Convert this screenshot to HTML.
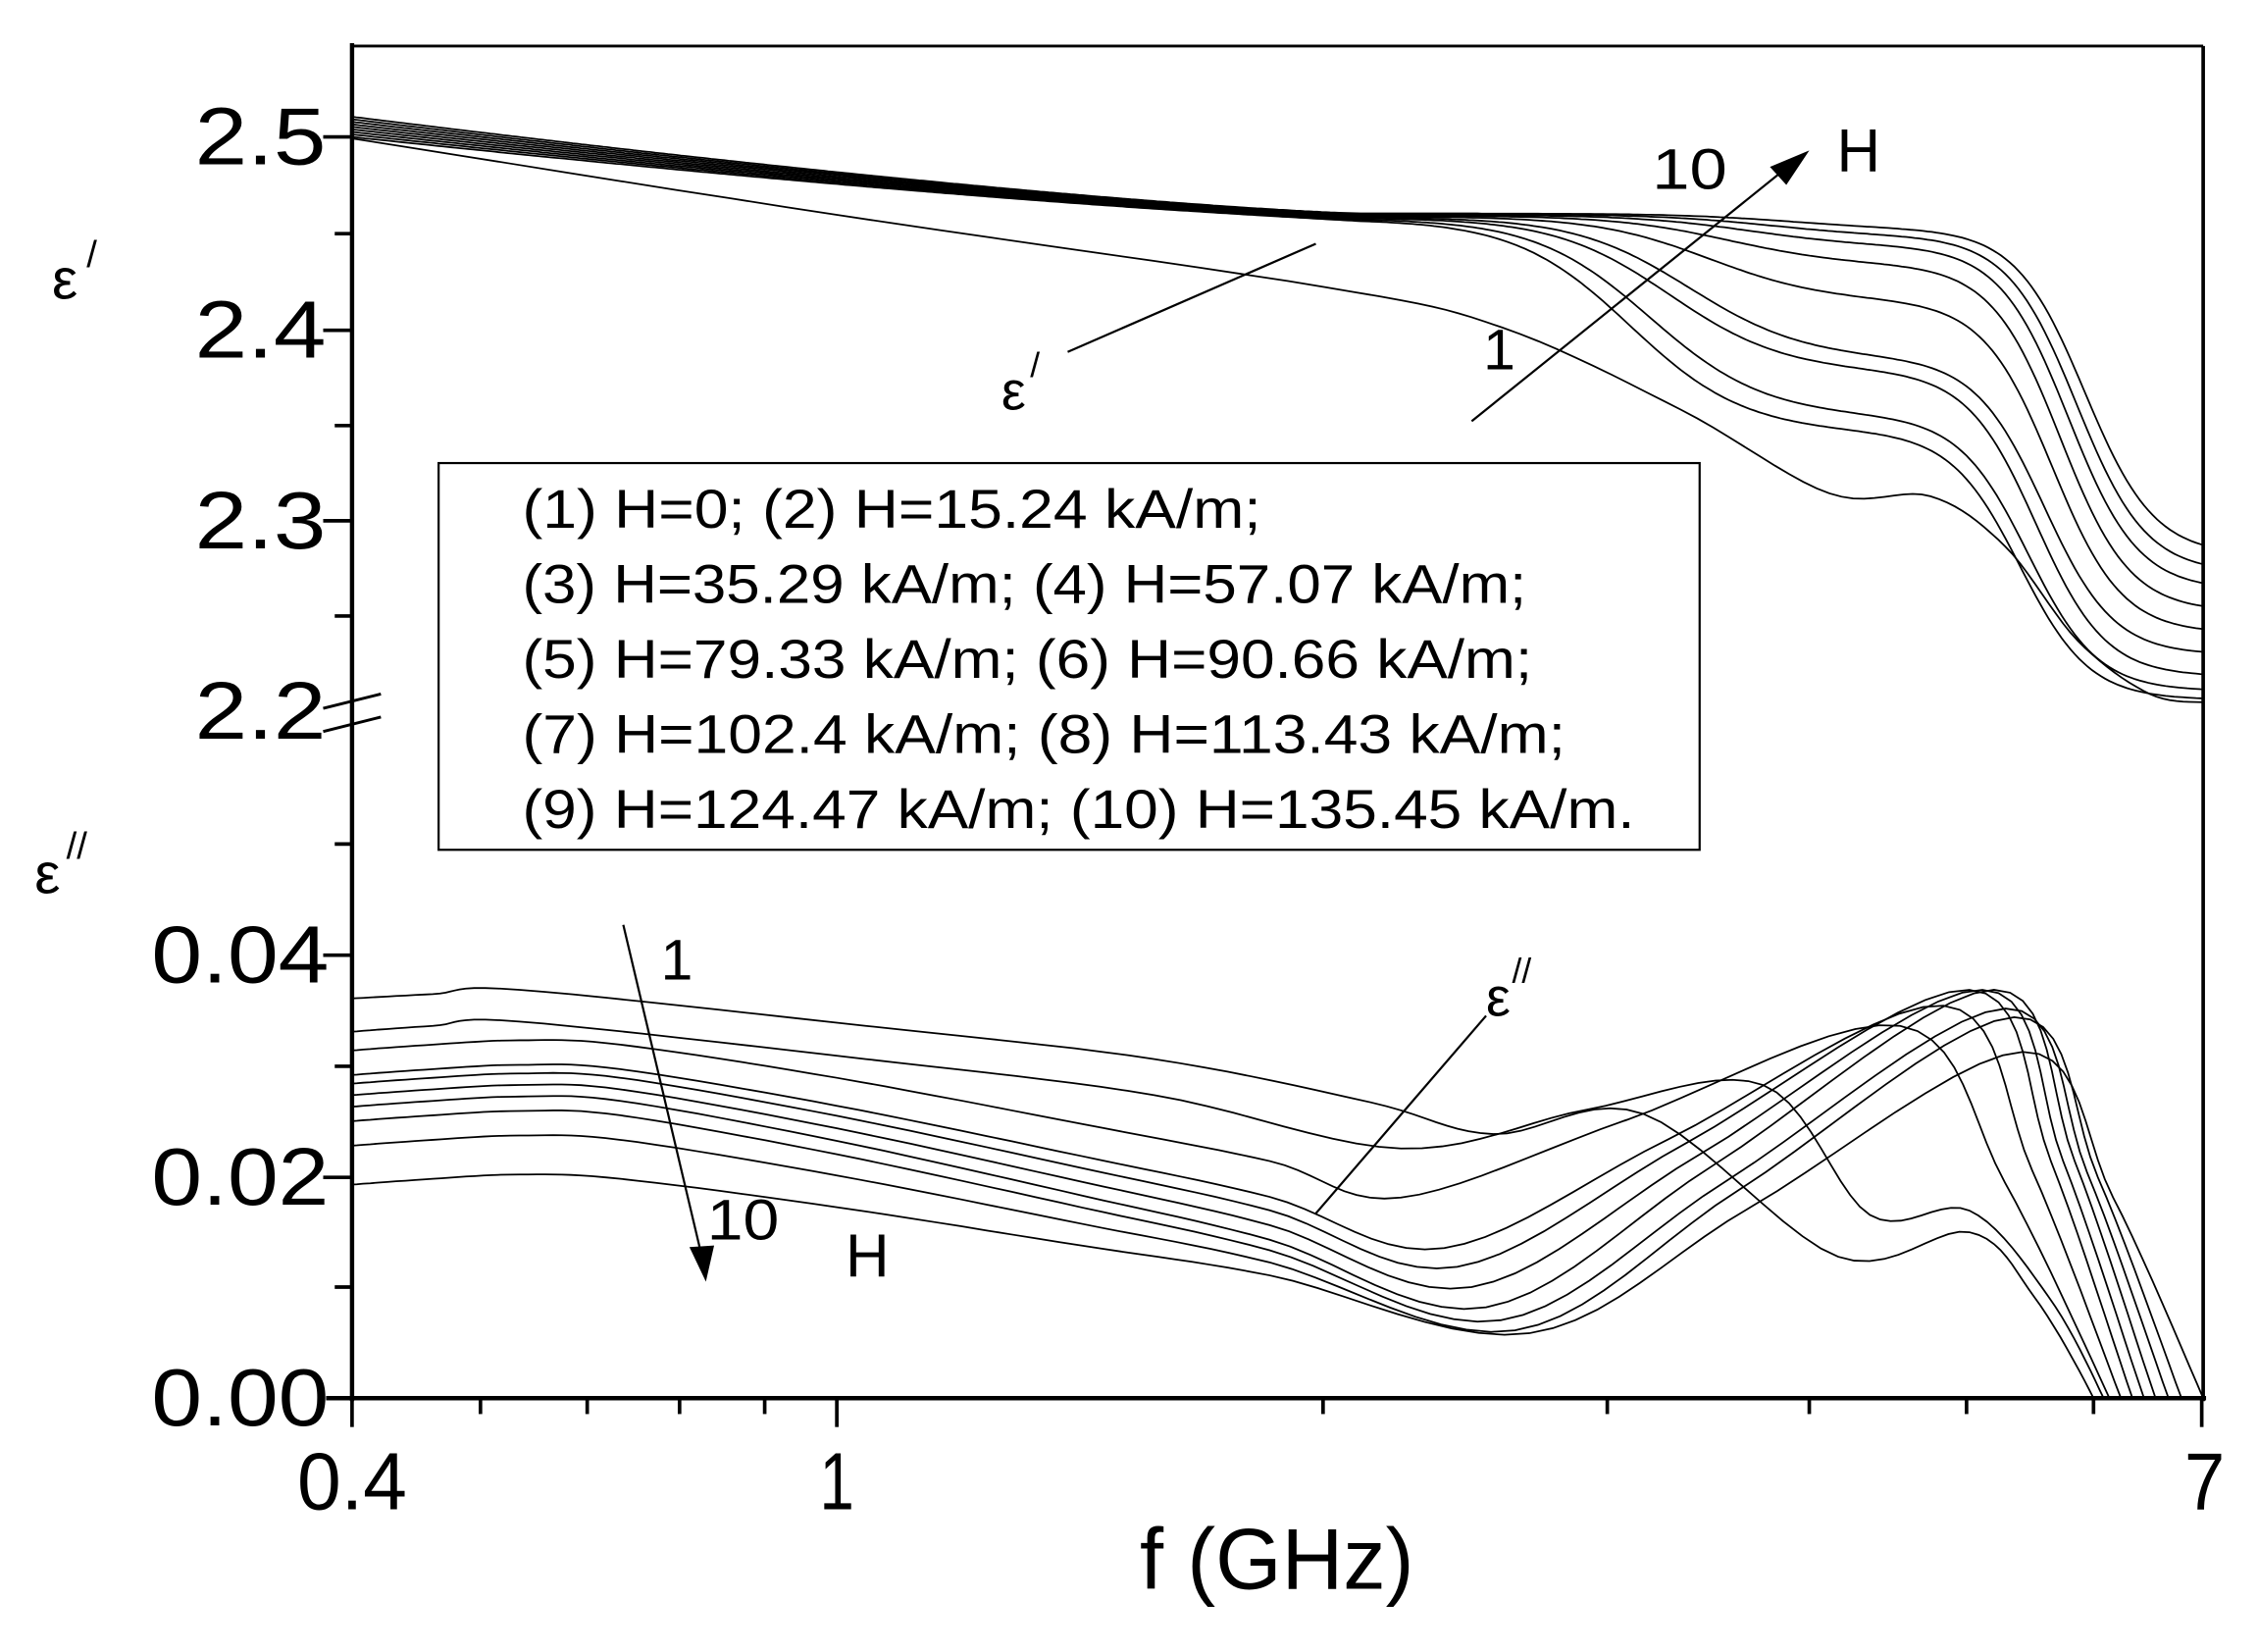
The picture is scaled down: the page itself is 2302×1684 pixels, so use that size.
<!DOCTYPE html>
<html><head><meta charset="utf-8"><style>html,body{margin:0;padding:0;background:#fff}svg{display:block}</style></head>
<body>
<svg id="s" xmlns="http://www.w3.org/2000/svg" width="2302" height="1684" viewBox="0 1.1 1565 1144.8" preserveAspectRatio="none" font-family="Liberation Sans, Arial, sans-serif">
<rect x="0" y="0" width="1565" height="1150" fill="#fff"/>
<defs><clipPath id="cp"><rect x="244" y="33" width="1283" height="937"/></clipPath></defs>
<g id="curves" clip-path="url(#cp)" fill="none" stroke="#000" stroke-width="1.2"></g>
<g stroke="#000" fill="none">
<line x1="244" y1="33" x2="1527" y2="33" stroke-width="2"/>
<line x1="1527" y1="33" x2="1527" y2="972" stroke-width="2.5"/>
<line x1="244" y1="31" x2="244" y2="972" stroke-width="3"/>
<line x1="226" y1="970" x2="1529" y2="970" stroke-width="3"/>
<line x1="224" y1="96" x2="244" y2="96" stroke-width="2.5"/>
<line x1="224" y1="230" x2="244" y2="230" stroke-width="2.5"/>
<line x1="224" y1="362" x2="244" y2="362" stroke-width="2.5"/>
<line x1="232" y1="163" x2="244" y2="163" stroke-width="2.5"/>
<line x1="232" y1="296" x2="244" y2="296" stroke-width="2.5"/>
<line x1="232" y1="428" x2="244" y2="428" stroke-width="2.5"/>
<line x1="224" y1="492" x2="264" y2="482" stroke-width="2"/>
<line x1="224" y1="508" x2="264" y2="498" stroke-width="2"/>
<line x1="224" y1="663" x2="244" y2="663" stroke-width="2.5"/>
<line x1="224" y1="817" x2="244" y2="817" stroke-width="2.5"/>
<line x1="232" y1="586" x2="244" y2="586" stroke-width="2.5"/>
<line x1="232" y1="740" x2="244" y2="740" stroke-width="2.5"/>
<line x1="232" y1="893" x2="244" y2="893" stroke-width="2.5"/>
<line x1="244" y1="970" x2="244" y2="990" stroke-width="2.5"/>
<line x1="580" y1="970" x2="580" y2="990" stroke-width="2.5"/>
<line x1="1526" y1="970" x2="1526" y2="990" stroke-width="2.5"/>
<g stroke-width="2.5">
<line x1="333" y1="970" x2="333" y2="981"/><line x1="407" y1="970" x2="407" y2="981"/>
<line x1="471" y1="970" x2="471" y2="981"/><line x1="530" y1="970" x2="530" y2="981"/>
<line x1="917" y1="970" x2="917" y2="981"/><line x1="1114" y1="970" x2="1114" y2="981"/>
<line x1="1254" y1="970" x2="1254" y2="981"/><line x1="1363" y1="970" x2="1363" y2="981"/>
<line x1="1451" y1="970" x2="1451" y2="981"/>
</g>
</g>
<g font-size="56" fill="#000">
<text x="135" y="115" textLength="91" lengthAdjust="spacingAndGlyphs">2.5</text>
<text x="135" y="249" textLength="91" lengthAdjust="spacingAndGlyphs">2.4</text>
<text x="135" y="381" textLength="91" lengthAdjust="spacingAndGlyphs">2.3</text>
<text x="135" y="513" textLength="91" lengthAdjust="spacingAndGlyphs">2.2</text>
<text x="105" y="682" textLength="123" lengthAdjust="spacingAndGlyphs">0.04</text>
<text x="105" y="836" textLength="123" lengthAdjust="spacingAndGlyphs">0.02</text>
<text x="105" y="989" textLength="123" lengthAdjust="spacingAndGlyphs">0.00</text>
<text x="206" y="1047" textLength="76" lengthAdjust="spacingAndGlyphs">0.4</text>
<text x="568" y="1047" textLength="24" lengthAdjust="spacingAndGlyphs">1</text>
<text x="1514" y="1047" textLength="28" lengthAdjust="spacingAndGlyphs">7</text>
<text x="790" y="1102" font-size="60" textLength="190" lengthAdjust="spacingAndGlyphs">f (GHz)</text>
</g>
<g font-size="40" fill="#000">
<text x="36" y="208">ε</text><text x="60" y="186" font-size="26">/</text>
<text x="24" y="620">ε</text><text x="46" y="596" font-size="26">//</text>
<text x="694" y="285" font-size="38">ε</text><text x="714" y="262" font-size="24">/</text>
<text x="1030" y="705" font-size="38">ε</text><text x="1048" y="682" font-size="24">//</text>
<text x="1145" y="132" textLength="52" lengthAdjust="spacingAndGlyphs">10</text>
<text x="1273" y="120" font-size="42">H</text>
<text x="1028" y="257">1</text>
<text x="458" y="680">1</text>
<text x="490" y="860" textLength="50" lengthAdjust="spacingAndGlyphs">10</text>
<text x="586" y="886" font-size="42">H</text>
</g>
<g stroke="#000" stroke-width="1.5" fill="#000">
<line x1="1020" y1="293" x2="1240" y2="116"/>
<polygon points="1252,107 1228,117 1238,128"/>
<line x1="740" y1="245" x2="912" y2="170"/>
<line x1="432" y1="642" x2="486" y2="870"/>
<polygon points="489,887 479,866 494,865"/>
<line x1="912" y1="842" x2="1030" y2="705"/>
</g>
<rect x="304" y="322" width="874" height="268" fill="#fff" stroke="#000" stroke-width="1.5"/>
<g font-size="38" fill="#000">
<text x="362" y="367" textLength="512" lengthAdjust="spacingAndGlyphs">(1) H=0; (2) H=15.24 kA/m;</text>
<text x="362" y="419" textLength="696" lengthAdjust="spacingAndGlyphs">(3) H=35.29 kA/m; (4) H=57.07 kA/m;</text>
<text x="362" y="471" textLength="700" lengthAdjust="spacingAndGlyphs">(5) H=79.33 kA/m; (6) H=90.66 kA/m;</text>
<text x="362" y="523" textLength="723" lengthAdjust="spacingAndGlyphs">(7) H=102.4 kA/m; (8) H=113.43 kA/m;</text>
<text x="362" y="575" textLength="771" lengthAdjust="spacingAndGlyphs">(9) H=124.47 kA/m; (10) H=135.45 kA/m.</text>
</g>
</svg>
<script>
(function(){
var g=document.getElementById('curves');
function sg(x,c,w){return 1/(1+Math.exp(-(x-c)/w));}
function path(pts){var d='M'+pts[0][0].toFixed(1)+' '+pts[0][1].toFixed(1);for(var i=1;i<pts.length;i++)d+=' L'+pts[i][0].toFixed(1)+' '+pts[i][1].toFixed(1);var p=document.createElementNS('http://www.w3.org/2000/svg','path');p.setAttribute('d',d);g.appendChild(p);}
function cr(P){var out=[];for(var i=0;i<P.length-1;i++){var p0=P[Math.max(0,i-1)],p1=P[i],p2=P[i+1],p3=P[Math.min(P.length-1,i+2)];for(var s=0;s<1;s+=0.1){var s2=s*s,s3=s2*s;var x=0.5*((2*p1[0])+(-p0[0]+p2[0])*s+(2*p0[0]-5*p1[0]+4*p2[0]-p3[0])*s2+(-p0[0]+3*p1[0]-3*p2[0]+p3[0])*s3);var y=0.5*((2*p1[1])+(-p0[1]+p2[1])*s+(2*p0[1]-5*p1[1]+4*p2[1]-p3[1])*s2+(-p0[1]+3*p1[1]-3*p2[1]+p3[1])*s3);out.push([x,y]);}}out.push(P[P.length-1]);return out;}
// epsilon'
path(cr([[244,97],[580,150],[918,200],[1041,228],[1165,285],[1268,343],[1338,345],[1390,380],[1440,445],[1490,482],[1530,488]]));
var PL=[301,290,259,250,210,185,172,165,160];
var EE=[486,480,470,455,440,425,410,398,386];
for(var k=2;k<=10;k++){
 var u=(k-2)/8;
 var y0=96-14*u, yb=153-4*u, P=PL[k-2], c1=1130+110*u, w1=40, c2=1400+45*u, E=EE[k-2];
 var pts=[];
 for(var x=244;x<=1530;x+=3){
  var f=Math.min(1,(x-244)/700);
  var b=y0+(yb-y0)*(1-Math.pow(1-f,1.3));
  var y=b+(P-yb)*sg(x,c1,w1)+(E-P)*sg(x,c2,24);
  pts.push([x,y]);
 }
 path(pts);
}
// epsilon''
path(cr([[244,693],[300,690],[360,687],[600,712],[800,735],[950,765],[1035,787],[1139,773],[1274,872],[1365,855],[1410,900],[1451,970],[1465,1010]]));
path(cr([[244,716],[300,712],[360,709],[600,735],[800,760],[971,797],[1100,770],[1222,753],[1296,843],[1365,840],[1420,900],[1458,970],[1472,1010]]));
var Y0=[729,746,752,760,768,778,795,822];
var M=[831,866,879,893,907,916,923,925];
var XM=[971,1001,1010,1020,1030,1040,1050,1060];
var PX=[1317,1347,1365,1374,1382,1390,1396,1402];
var PH=[712,698,687,687,687,700,706,730];
var D=[1462,1470,1478,1486,1494,1503,1512,1527];
for(var k=0;k<8;k++){
 var y0=Y0[k],m=M[k],xm=XM[k],p=PX[k],h=PH[k],d=D[k];
 var P=[[244,y0],[300,y0-4],[360,y0-7],[430,y0-4]];
 var xs=[580,750,880];
 for(var i=0;i<xs.length;i++){var f=(xs[i]-430)/(xm-430);P.push([xs[i],y0-4+(m-y0+4)*(0.7*f+0.3*f*f)-(xs[i]==880?3:0)]);}
 P.push([xm,m]);
 P.push([xm+0.45*(p-xm),m-0.45*(m-h)]);
 P.push([p,h]);
 P.push([(p+d)/2,h+0.42*(970-h)]);
 P.push([d,970]);P.push([d+15,1010]);
 path(cr(P));
}
})();
</script>
</body></html>
